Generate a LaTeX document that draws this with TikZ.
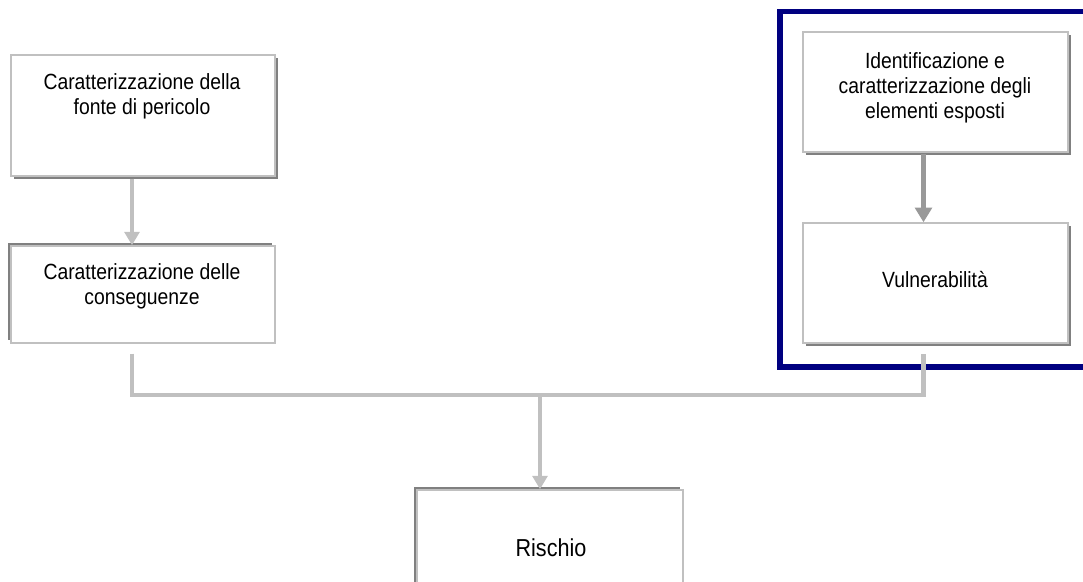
\documentclass[tikz,border=0pt]{standalone}
\usepackage{fontspec}
\setmainfont{Liberation Sans}[FakeStretch=0.88]
\usetikzlibrary{arrows.meta,shadows}
\definecolor{lgray}{HTML}{C0C0C0}
\definecolor{dgray}{HTML}{808080}
\definecolor{agray}{HTML}{999999}
\definecolor{navyb}{HTML}{000080}
\begin{document}
\begin{tikzpicture}[x=0.75pt,y=-0.75pt,
  box/.style={draw=lgray, line width=1.1pt, fill=white, inner sep=0pt},
  shbr/.style={drop shadow={shadow xshift=2.4pt, shadow yshift=-2.4pt, fill=dgray, opacity=1}},
  shtl/.style={drop shadow={shadow xshift=-2.4pt, shadow yshift=2.4pt, fill=dgray, opacity=1}},
  txt/.style={align=center, inner sep=0pt, font=\fontsize{16.5pt}{19pt}\selectfont},
  conn/.style={draw=lgray, line width=3.6pt, line join=miter},
  tip/.style={-{Triangle[width=11pt,length=10pt]}},
]
\useasboundingbox (0,0) rectangle (1083,582);
\clip (0,0) rectangle (1083,582);
\fill[white] (0,0) rectangle (1083,582);

% blue frame
\draw[navyb, line width=3.8pt, line join=miter] (1100,367) -| (780,11.5) -- (1100,11.5);

% boxes
\node[box, shbr, minimum width={264*0.75pt}, minimum height={121*0.75pt}] (b1) at (143,115.5) {};
\node[box, shtl, minimum width={264*0.75pt}, minimum height={97*0.75pt}] (b2) at (143,294.5) {};
\node[box, shbr, minimum width={265*0.75pt}, minimum height={120*0.75pt}] (b3) at (935.5,92) {};
\node[box, shbr, minimum width={265*0.75pt}, minimum height={120*0.75pt}] (b4) at (935.5,283) {};
\node[box, shtl, minimum width={266*0.75pt}, minimum height={120*0.75pt}] (b5) at (550,550) {};

% texts
\node[txt, anchor=north] (t1) at (142,73) {Caratterizzazione della\\fonte di pericolo};
\node[txt, anchor=north] (t2) at (142,263) {Caratterizzazione delle\\conseguenze};
\node[txt, anchor=north] (t3) at (935,52) {Identificazione e\\caratterizzazione degli\\elementi esposti};
\node[txt] (t4) at (935,280) {Vulnerabilità};
\node[txt, font=\fontsize{18.4pt}{21pt}\selectfont] (t5) at (551,548) {Rischio};

% connectors
\coordinate (jm) at (540,395);
\draw[conn, tip] ([xshift={-11*0.75pt}, yshift={-2*0.75pt}]b1.south) -- ([xshift={-11*0.75pt}]b2.north);
\draw[draw=agray, line width=3.8pt, -{Triangle[width=12.5pt,length=11pt]}] ([xshift={-12*0.75pt}, yshift={-1*0.75pt}]b3.south) -- ([xshift={-12*0.75pt}]b4.north);
\draw[conn] ([xshift={-11*0.75pt}, yshift={-10*0.75pt}]b2.south) |- (jm) -| ([xshift={-12*0.75pt}, yshift={-10*0.75pt}]b4.south);
\draw[conn, tip] (jm) -- ([xshift={-10*0.75pt}]b5.north);
\end{tikzpicture}
\end{document}
